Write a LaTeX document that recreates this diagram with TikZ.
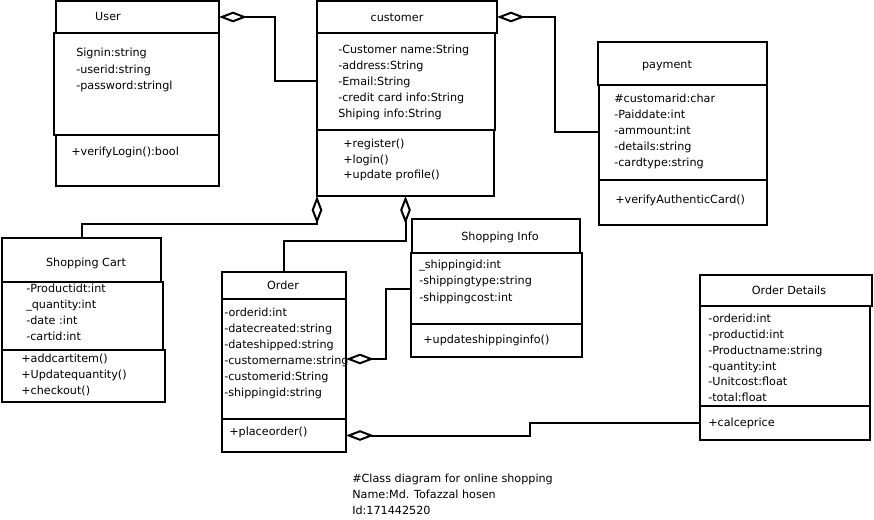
\documentclass[tikz,border=0pt]{standalone}
\usepackage{fontspec}
\setmainfont{DejaVu Sans}
\usetikzlibrary{arrows.meta}

% one compartment of a class box: name, x0, y0, x1, y1 (pixel grid, y downwards)
\newcommand\umlpart[5]{%
  \node[box,minimum width=(#4-#2)*0.75pt,minimum height=(#5-#3)*0.75pt] (#1) at (#2,#3) {};}
% a column of text lines: name prefix, x, first y, line step, lines
\newcommand\umllines[5]{%
  \foreach \t [count=\i] in {#5} {\node[txt] (#1\i) at (#2,#3+#4*\i-#4) {\t};}}

\begin{document}
\begin{tikzpicture}[x=0.75pt,y=-0.75pt,
  box/.style={draw,line width=1.5pt,rectangle,inner sep=0pt,outer sep=0pt,anchor=north west},
  txt/.style={inner sep=0pt,anchor=mid west,font=\fontsize{8.4}{10}\selectfont},
  ttl/.style={txt,anchor=mid},
  aggr/.style={line width=1.5pt,{Diamond[open,length=21pt,width=8pt]}-}]

\fill[white] (0,0) rectangle (874,520);
\useasboundingbox (0,0) rectangle (874,520);

% User
\umlpart{userh}{56}{1}{219}{33}
\umlpart{usera}{54}{33}{219}{135}
\umlpart{userm}{56}{135}{219}{186}
\node[ttl] (usert) at (108,17) {User};
\umllines{ua}{76}{53}{16.5}{Signin:string,-userid:string,-password:stringl}
\umllines{um}{71}{152}{16}{+verifyLogin():bool}

% customer
\umlpart{custh}{317}{1}{497}{33}
\umlpart{custa}{317}{33}{495}{130}
\umlpart{custm}{317}{130}{494}{196}
\node[ttl] (custt) at (397,18) {customer};
\umllines{ca}{338}{50}{16}{-Customer name:String,-address:String,-Email:String,-credit card info:String,Shiping info:String}
\umllines{cm}{343}{144}{15.5}{+register(),+login(),+update profile()}

% payment
\umlpart{payh}{598}{42}{767}{85}
\umlpart{paya}{599}{85}{767}{180}
\umlpart{paym}{599}{180}{767}{225}
\node[ttl] (payt) at (667,65) {payment};
\umllines{pa}{614}{99}{16}{\#customarid:char,-Paiddate:int,-ammount:int,-details:string,-cardtype:string}
\umllines{pm}{615}{200}{16}{+verifyAuthenticCard()}

% Shopping Cart
\umlpart{carth}{2}{238}{161}{282}
\umlpart{carta}{2}{282}{163}{350}
\umlpart{cartm}{2}{350}{165}{402}
\node[ttl] (cartt) at (86,263) {Shopping Cart};
\umllines{sa}{26}{289}{16}{-Productidt:int,\_quantity:int,-date :int,-cartid:int}
\umllines{sm}{21}{359}{16}{+addcartitem(),+Updatequantity(),+checkout()}

% Order
\umlpart{orderh}{222}{272}{346}{299}
\umlpart{ordera}{222}{299}{346}{419}
\umlpart{orderm}{222}{419}{346}{452}
\node[ttl] (ordert) at (283,286) {Order};
\umllines{oa}{224}{313}{16}{-orderid:int,-datecreated:string,-dateshipped:string,-customername:string,-customerid:String,-shippingid:string}
\umllines{om}{229}{432}{16}{+placeorder()}

% Shopping Info
\umlpart{shiph}{412}{219}{580}{253}
\umlpart{shipa}{411}{253}{582}{324}
\umlpart{shipm}{411}{324}{582}{357}
\node[ttl] (shipt) at (500,237) {Shopping Info};
\umllines{ia}{419}{265}{16.3}{\_shippingid:int,-shippingtype:string,-shippingcost:int}
\umllines{im}{423}{340}{16}{+updateshippinginfo()}

% Order Details
\umlpart{odh}{700}{275}{872}{306}
\umlpart{oda}{700}{306}{870}{406}
\umlpart{odm}{700}{406}{870}{440}
\node[ttl] (odt) at (789,291) {Order Details};
\umllines{da}{708}{319}{15.8}{-orderid:int,-productid:int,-Productname:string,-quantity:int,-Unitcost:float,-total:float}
\umllines{dm}{708}{423}{16}{+calceprice}

% aggregations
\draw[aggr] (userh.east) -- ++(56,0) |- (custa.west);
\draw[aggr] (custh.east) -- ++(58,0) |- (paya.west);
\draw[aggr] (custm.south west) -- ++(0,28) -| (carth.north);
\draw[aggr] (custm.south) -- ++(0,45) -| (orderh.north);
\draw[aggr] (ordera.east) -- ++(40,0) |- (shipa.west);
\draw[aggr] (orderm.east) -- ++(184,0) |- (odm.west);

% caption
\umllines{cap}{352}{479}{16}{\#Class diagram for online shopping,Name:Md. Tofazzal hosen,Id:171442520}

\end{tikzpicture}
\end{document}
